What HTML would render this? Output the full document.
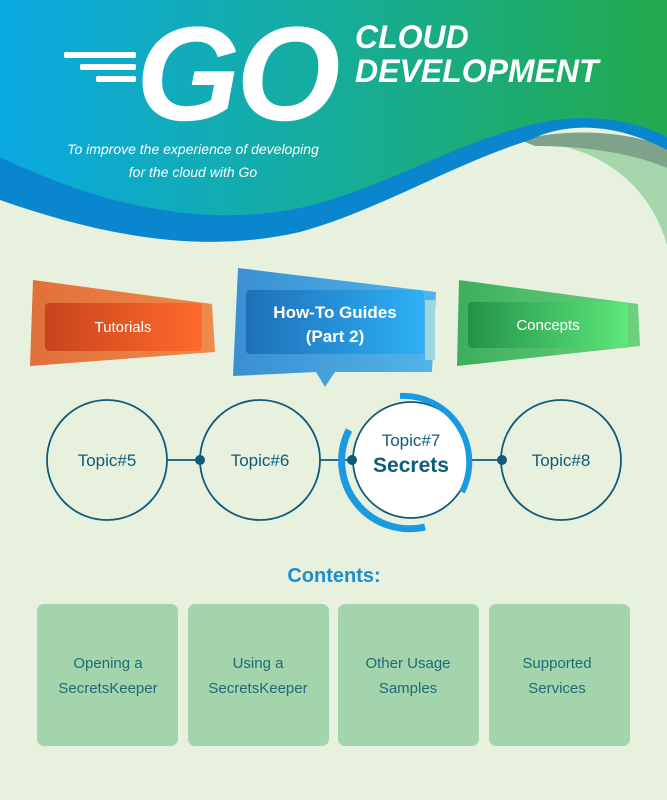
<!DOCTYPE html>
<html><head><meta charset="utf-8"><style>
body{margin:0;width:667px;height:800px;overflow:hidden;background:#e8f1de}
svg{display:block}
text{font-family:"Liberation Sans",sans-serif}
</style></head><body>
<svg width="667" height="800" viewBox="0 0 667 800">
<defs>
<linearGradient id="hg" x1="0" x2="1" y1="0" y2="0"><stop offset="0" stop-color="#0aa9e2"/><stop offset="0.5" stop-color="#16ad9a"/><stop offset="1" stop-color="#22aa4c"/></linearGradient>
<linearGradient id="og" x1="0" x2="1"><stop offset="0" stop-color="#e0703a"/><stop offset="1" stop-color="#f08a4a"/></linearGradient>
<linearGradient id="oi" x1="0" x2="1"><stop offset="0" stop-color="#c8441e"/><stop offset="1" stop-color="#ff6a2a"/></linearGradient>
<linearGradient id="bg2" x1="0" x2="1"><stop offset="0" stop-color="#3a8fd0"/><stop offset="1" stop-color="#52b4ea"/></linearGradient>
<linearGradient id="bi" x1="0" x2="1"><stop offset="0" stop-color="#1e70b8"/><stop offset="1" stop-color="#2eb0f5"/></linearGradient>
<linearGradient id="gg" x1="0" x2="1"><stop offset="0" stop-color="#3cae5c"/><stop offset="1" stop-color="#6cd27e"/></linearGradient>
<linearGradient id="gi" x1="0" x2="1"><stop offset="0" stop-color="#23924a"/><stop offset="1" stop-color="#5ee87a"/></linearGradient>
</defs>
<path d="M530,142 C600,145 650,185 667,245 V140 Z" fill="#a5d5ab"/>
<path d="M520,140 C580,125 640,135 667,148 V168 C630,152 580,146 535,146 Z" fill="#7fa38a"/>
<path d="M0,0 H667 V150 C620,125 570,120 530,140 C450,165 380,210 300,232 C200,255 100,235 0,200 Z" fill="#0a86cf"/>
<path d="M0,0 H667 V137 C630,118 580,112 530,125 C450,145 380,190 300,208 C200,228 100,205 0,157 Z" fill="url(#hg)"/>
<g fill="#fff">
<rect x="64" y="52" width="72" height="6" rx="2"/>
<rect x="80" y="64" width="56" height="6" rx="2"/>
<rect x="96" y="76" width="40" height="6" rx="2"/>
<text x="136" y="120" font-size="134" font-weight="bold" font-style="italic" letter-spacing="-4">GO</text>
<text x="355" y="48" font-size="32" font-weight="bold" font-style="italic">CLOUD</text>
<text x="355" y="82" font-size="32" font-weight="bold" font-style="italic">DEVELOPMENT</text>
<text x="193" y="154" font-size="14" font-style="italic" text-anchor="middle">To improve the experience of developing</text>
<text x="193" y="177" font-size="14" font-style="italic" text-anchor="middle">for the cloud with Go</text>
</g>
<path d="M33,280 L212,304 L215,352 L30,366 Z" fill="url(#og)"/>
<rect x="45" y="303" width="157" height="48" rx="4" fill="url(#oi)"/>
<text x="123" y="332" font-size="15" fill="#fff" text-anchor="middle">Tutorials</text>
<path d="M238,268 L436,292 L432,372 L335,372 L325,387 L316,372 L233,376 Z" fill="url(#bg2)"/>
<rect x="425" y="300" width="10" height="60" fill="#9ad7e0"/>
<rect x="246" y="290" width="178" height="64" rx="4" fill="url(#bi)"/>
<text x="335" y="318" font-size="17" font-weight="bold" fill="#fff" text-anchor="middle">How-To Guides</text>
<text x="335" y="342" font-size="17" font-weight="bold" fill="#fff" text-anchor="middle">(Part 2)</text>
<path d="M459,280 L638,304 L640,346 L457,366 Z" fill="url(#gg)"/>
<rect x="468" y="302" width="160" height="46" rx="4" fill="url(#gi)"/>
<text x="548" y="330" font-size="15" fill="#fff" text-anchor="middle">Concepts</text>
<g stroke="#0e5b7a" stroke-width="1.8" fill="none">
<line x1="167" y1="460" x2="200" y2="460"/><line x1="320" y1="460" x2="352" y2="460"/><line x1="470" y1="460" x2="502" y2="460"/>
<circle cx="107" cy="460" r="60"/><circle cx="260" cy="460" r="60"/><circle cx="561" cy="460" r="60"/>
<circle cx="411" cy="460" r="58" fill="#fff"/>
</g>
<g fill="#0e5b7a"><circle cx="200" cy="460" r="5"/><circle cx="352" cy="460" r="5"/><circle cx="502" cy="460" r="5"/></g>
<path d="M349,430 A68,68 0 0,0 425,527" stroke="#1a9ae0" stroke-width="7" fill="none"/>
<path d="M400,396 A66,66 0 0,1 462,492" stroke="#1a9ae0" stroke-width="6" fill="none"/>
<g fill="#0e5b7a" text-anchor="middle" font-size="17">
<text x="107" y="466">Topic#5</text><text x="260" y="466">Topic#6</text><text x="561" y="466">Topic#8</text>
<text x="411" y="446">Topic#7</text>
<text x="411" y="472" font-size="21" font-weight="bold">Secrets</text>
</g>
<text x="334" y="582" font-size="20" font-weight="bold" fill="#1a8fd0" text-anchor="middle">Contents:</text>
<g fill="#a3d4ac">
<rect x="37" y="604" width="141" height="142" rx="7"/><rect x="188" y="604" width="141" height="142" rx="7"/>
<rect x="338" y="604" width="141" height="142" rx="7"/><rect x="489" y="604" width="141" height="142" rx="7"/>
</g>
<g fill="#1e6a78" text-anchor="middle" font-size="15">
<text x="108" y="668">Opening a</text><text x="108" y="693">SecretsKeeper</text>
<text x="258" y="668">Using a</text><text x="258" y="693">SecretsKeeper</text>
<text x="408" y="668">Other Usage</text><text x="408" y="693">Samples</text>
<text x="557" y="668">Supported</text><text x="557" y="693">Services</text>
</g>
</svg>
</body></html>
